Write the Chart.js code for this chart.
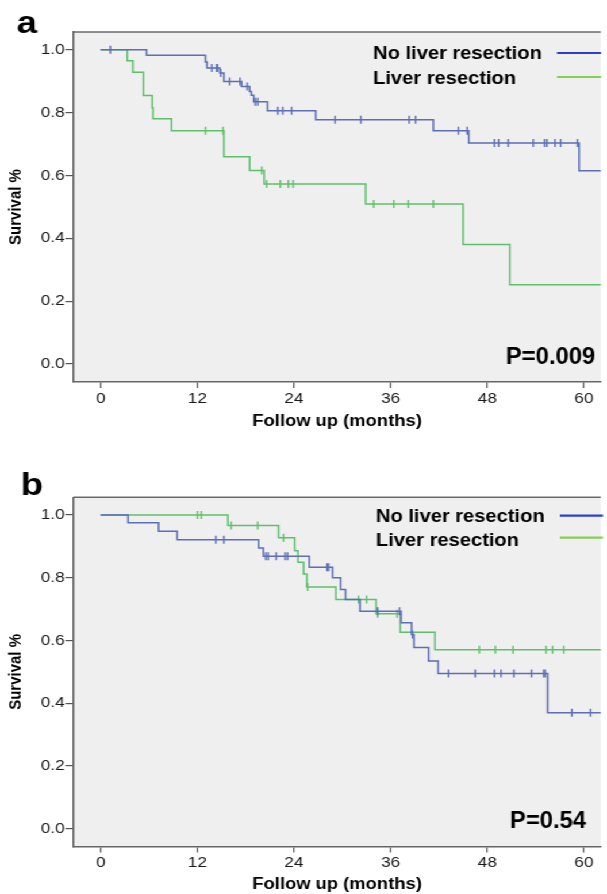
<!DOCTYPE html>
<html lang="en">
<head>
<meta charset="UTF-8">
<title>Survival by liver resection</title>
<script src="https://cdn.jsdelivr.net/npm/chart.js"></script>
<style>
  html, body { margin: 0; padding: 0; background: #fff; }
  body { width: 607px; height: 894px; overflow: hidden; }
  /* the source figure is a little wider than tall in its lettering */
  #stretch { width: 528px; transform: scaleX(1.1496); transform-origin: 0 0; }
  canvas { display: block; }
</style>
</head>
<body>
<div id="stretch">
  <canvas id="chartA" width="528" height="445" style="width:528px;height:445px"></canvas>
  <canvas id="chartB" width="528" height="449" style="width:528px;height:449px"></canvas>
</div>
<script>
const seriesNames = ['No liver resection', 'Liver resection'];
const xTicks = [0, 12, 24, 36, 48, 60];
const yTicks = [0, 0.2, 0.4, 0.6, 0.8, 1.0];
const xTitle = 'Follow up (months)';
const yTitle = 'Survival %';
const pValues = ['P=0.009', 'P=0.54'];
const panelLetters = ['a', 'b'];
const followUpEnd = 64; // curves run on past the 60 month edge

// panel a - event times (months) and survival after each step
const aNoTimes = [0, 5.7, 13.0, 13.2, 14.8, 15.3, 17.5, 18.5, 18.7, 19.0, 20.7, 26.7, 41.3, 45.7, 59.4];
const aNoSurv  = [1.0, 0.982, 0.961, 0.942, 0.926, 0.899, 0.883, 0.867, 0.855, 0.834, 0.806, 0.777, 0.742, 0.703, 0.615];
const aNoCens  = [1.2, 13.8, 14.4, 14.5, 14.9, 16.0, 17.3, 18.2, 19.2, 19.5, 22.0, 22.6, 23.7, 29.1, 32.3, 38.3, 39.1,
                  44.4, 45.5, 48.9, 49.4, 50.6, 53.7, 55.1, 55.4, 56.4, 57.1, 59.2];
const aResTimes = [0, 3.3, 4.0, 5.3, 6.4, 6.5, 8.8, 15.3, 18.5, 20.3, 32.9, 45.0, 50.8];
const aResSurv  = [1.0, 0.965, 0.928, 0.854, 0.815, 0.780, 0.742, 0.659, 0.616, 0.573, 0.509, 0.380, 0.252];
const aResCens  = [13.0, 15.2, 20.0, 20.6, 22.3, 23.3, 23.9, 33.9, 36.4, 38.2, 41.3];

// panel b
const bNoTimes = [0, 3.4, 7.2, 9.5, 19.6, 20.2, 25.9, 28.8, 29.8, 30.4, 32.2, 37.3, 38.6, 38.9, 40.7, 41.9, 55.5];
const bNoSurv  = [1.0, 0.975, 0.948, 0.921, 0.895, 0.868, 0.833, 0.800, 0.762, 0.730, 0.693, 0.656, 0.619, 0.577, 0.534, 0.494, 0.369];
const bNoCens  = [14.3, 15.3, 20.5, 20.8, 21.8, 22.9, 23.2, 28.1, 28.3, 34.4, 37.1, 38.7, 43.2, 46.5, 48.9, 49.7,
                  51.3, 53.5, 55.0, 55.2, 58.5, 60.8];
const bResTimes = [0, 15.8, 22.1, 24.1, 24.5, 25.2, 25.6, 29.2, 34.2, 37.2, 41.5];
const bResSurv  = [1.0, 0.966, 0.927, 0.886, 0.849, 0.812, 0.770, 0.730, 0.685, 0.626, 0.570];
const bResCens  = [12.0, 12.5, 16.2, 19.5, 22.7, 25.7, 32.0, 33.0, 34.4, 36.8, 47.0, 49.0, 51.2, 55.3, 56.1, 57.5];

const curveColors = ['#5b6eb6', '#5fc06b'];
const legendColors = ['#2a3fcf', '#86cf55'];
const FONT = '"Liberation Sans", Arial, sans-serif';

function survAt(times, surv, t) {
    let s = surv[0];
    for (let i = 0; i < times.length; i++) {
        if (times[i] <= t) s = surv[i];
    }
    return s;
}

function stepPoints(times, surv) {
    const pts = times.map((t, i) => ({ x: t, y: surv[i] }));
    pts.push({ x: followUpEnd, y: surv[surv.length - 1] });
    return pts;
}

function censorPoints(times, surv, cens) {
    return cens.map(t => ({ x: t, y: survAt(times, surv, t) }));
}

// plot background, top frame line, panel letter, legend and p value
const panelDecor = {
    id: 'panelDecor',
    beforeDraw(chart, args, o) {
        const { ctx, chartArea: a } = chart;
        ctx.save();
        ctx.fillStyle = '#efefef';
        ctx.fillRect(a.left, a.top, a.right - a.left, a.bottom - a.top);
        ctx.strokeStyle = '#6a6a6a';
        ctx.lineWidth = 1.6;
        ctx.beginPath();
        ctx.moveTo(a.left, a.top);
        ctx.lineTo(a.right, a.top);
        ctx.stroke();
        ctx.restore();
    },
    afterDraw(chart, args, o) {
        const ctx = chart.ctx;
        ctx.save();
        ctx.fillStyle = '#000';
        ctx.textBaseline = 'alphabetic';
        ctx.textAlign = 'left';
        ctx.font = 'bold 32px ' + FONT;
        ctx.fillText(o.letter, o.letterX, o.letterY);

        ctx.font = 'bold 17.5px ' + FONT;
        seriesNames.forEach((name, i) => {
            ctx.fillStyle = '#000';
            ctx.fillText(name, o.legendX, o.legendY[i]);
            ctx.strokeStyle = legendColors[i];
            ctx.lineWidth = 2.2;
            ctx.beginPath();
            ctx.moveTo(o.lineX0, o.lineY[i]);
            ctx.lineTo(o.lineX1, o.lineY[i]);
            ctx.stroke();
        });

        ctx.translate(o.pX, o.pY);
        ctx.scale(0.9, 1);
        ctx.fillStyle = '#000';
        ctx.font = 'bold 23px ' + FONT;
        ctx.fillText(o.p, 0, 0);
        ctx.restore();
    }
};

function makePanel(id, panel) {
    const datasets = [];
    panel.series.forEach((s, i) => {
        datasets.push({
            label: seriesNames[i],
            data: stepPoints(s.times, s.surv),
            stepped: 'before',
            borderColor: curveColors[i],
            borderWidth: 1.5,
            pointRadius: 0,
            fill: false
        });
        datasets.push({
            label: seriesNames[i] + ' censored',
            data: censorPoints(s.times, s.surv, s.cens),
            showLine: false,
            pointStyle: 'line',
            rotation: 90,
            pointRadius: 4,
            pointBorderWidth: 1.4,
            pointBorderColor: curveColors[i],
            borderColor: curveColors[i]
        });
    });

    return new Chart(document.getElementById(id), {
        type: 'line',
        data: { datasets },
        plugins: [panelDecor],
        options: {
            responsive: false,
            animation: false,
            layout: { padding: { top: panel.padTop, left: 0, right: 0, bottom: 0 } },
            plugins: {
                legend: { display: false },
                tooltip: { enabled: false },
                panelDecor: panel.decor
            },
            scales: {
                x: {
                    type: 'linear',
                    min: -3.39,
                    max: 62.09,
                    afterBuildTicks: s => { s.ticks = xTicks.map(v => ({ value: v })); },
                    afterFit: s => { s.height = panel.xAxisHeight; },
                    ticks: { color: '#1a1a1a', padding: 1.5, font: { family: FONT, size: 15 } },
                    grid: { drawOnChartArea: false, tickLength: 6, color: '#555', lineWidth: 1.2 },
                    border: { display: true, color: '#666', width: 1.6 },
                    title: {
                        display: true, text: xTitle, color: '#000',
                        font: { family: FONT, size: 16, weight: 'bold' },
                        padding: { top: 0, bottom: panel.titlePadBottom }
                    }
                },
                y: {
                    min: -0.0573,
                    max: 1.0563,
                    afterBuildTicks: s => { s.ticks = yTicks.map(v => ({ value: v })); },
                    afterFit: s => { s.width = 63.8; },
                    ticks: {
                        color: '#1a1a1a', padding: 0.5, font: { family: FONT, size: 15 },
                        callback: v => v.toFixed(1)
                    },
                    grid: { drawOnChartArea: false, tickLength: 7, color: '#555', lineWidth: 1.2 },
                    border: { display: true, color: '#666', width: 1.6 },
                    title: {
                        display: true, text: yTitle, color: '#000',
                        font: { family: FONT, size: 15, weight: 'bold' },
                        padding: { top: 5, bottom: 0 }
                    }
                }
            }
        }
    });
}

makePanel('chartA', {
    padTop: 32,
    xAxisHeight: 63,
    titlePadBottom: 13.5,
    series: [
        { times: aNoTimes, surv: aNoSurv, cens: aNoCens },
        { times: aResTimes, surv: aResSurv, cens: aResCens }
    ],
    decor: {
        letter: panelLetters[0], letterX: 14.5, letterY: 33,
        legendX: 324.5, legendY: [59.3, 84.3],
        lineX0: 484.5, lineX1: 522.8, lineY: [53, 77],
        p: pValues[0], pX: 440, pY: 364
    }
});

makePanel('chartB', {
    padTop: 52.3,
    xAxisHeight: 47.5,
    titlePadBottom: 0,
    series: [
        { times: bNoTimes, surv: bNoSurv, cens: bNoCens },
        { times: bResTimes, surv: bResSurv, cens: bResCens }
    ],
    decor: {
        letter: panelLetters[1], letterX: 18, letterY: 50,
        legendX: 327, legendY: [76.7, 101],
        lineX0: 487, lineX1: 524.5, lineY: [70.7, 92.7],
        p: pValues[1], pX: 443.6, pY: 382.5
    }
});
</script>
</body>
</html>
